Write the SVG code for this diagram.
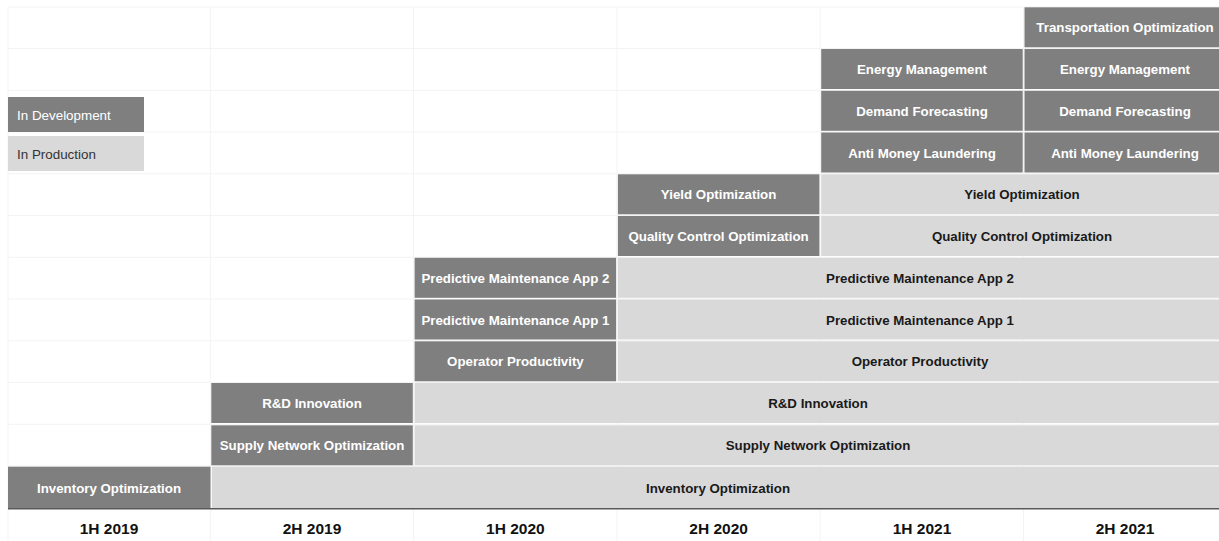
<svg xmlns="http://www.w3.org/2000/svg" width="1219" height="541" viewBox="0 0 1219 541">
<style>
.dk{fill:#7f7f7f}
.lt{fill:#d9d9d9}
.tw{font-family:"Liberation Sans",Arial,sans-serif;font-weight:bold;font-size:13.3px;fill:#ffffff;text-anchor:middle}
.tb{font-family:"Liberation Sans",Arial,sans-serif;font-weight:bold;font-size:13.3px;fill:#1a1a1a;text-anchor:middle}
.ax{font-family:"Liberation Sans",Arial,sans-serif;font-weight:bold;font-size:15.5px;fill:#111111;text-anchor:middle}
.lg{font-family:"Liberation Sans",Arial,sans-serif;font-size:13.4px}
.grid{stroke:#f3f3f3;stroke-width:1;fill:none}
</style>
<rect x="0" y="0" width="1219" height="541" fill="#ffffff"/>
<g id="grid">
<path class="grid" d="M8 7H1219M8 48.5H1219M8 90.3H1219M8 132H1219M8 173.8H1219M8 215.5H1219M8 257.3H1219M8 299H1219M8 340.8H1219M8 382.5H1219M8 424.3H1219M8 466H1219"/>
<path class="grid" d="M8 7V541M210.3 7V541M413.6 7V541M616.9 7V541M820.2 7V541M1023.5 7V541"/>
</g>
<g id="legend">
<rect class="dk" x="8" y="97" width="136" height="35"/>
<text class="lg" x="17" y="119.5" fill="#ffffff">In Development</text>
<rect class="lt" x="8" y="136" width="136" height="35"/>
<text class="lg" x="17" y="158.5" fill="#333333">In Production</text>
</g>
<g id="transportation">
<rect class="dk" x="1024.5" y="7.3" width="194.5" height="40"/>
<text class="tw" x="1125" y="32.3">Transportation Optimization</text>
</g>
<g id="energy">
<rect class="dk" x="821.2" y="49" width="201.5" height="40"/>
<text class="tw" x="922" y="74">Energy Management</text>
<rect class="dk" x="1024.5" y="49" width="194.5" height="40"/>
<text class="tw" x="1125" y="74">Energy Management</text>
</g>
<g id="demand">
<rect class="dk" x="821.2" y="90.8" width="201.5" height="40"/>
<text class="tw" x="922" y="115.8">Demand Forecasting</text>
<rect class="dk" x="1024.5" y="90.8" width="194.5" height="40"/>
<text class="tw" x="1125" y="115.8">Demand Forecasting</text>
</g>
<g id="aml">
<rect class="dk" x="821.2" y="132.5" width="201.5" height="40"/>
<text class="tw" x="922" y="157.5">Anti Money Laundering</text>
<rect class="dk" x="1024.5" y="132.5" width="194.5" height="40"/>
<text class="tw" x="1125" y="157.5">Anti Money Laundering</text>
</g>
<g id="yield">
<rect class="dk" x="617.9" y="174.3" width="201.5" height="40"/>
<text class="tw" x="718.6" y="199.3">Yield Optimization</text>
<rect class="lt" x="821.2" y="174.3" width="397.8" height="40"/>
<text class="tb" x="1022" y="199.3">Yield Optimization</text>
</g>
<g id="quality">
<rect class="dk" x="617.9" y="216" width="201.5" height="40"/>
<text class="tw" x="718.6" y="241">Quality Control Optimization</text>
<rect class="lt" x="821.2" y="216" width="397.8" height="40"/>
<text class="tb" x="1022" y="241">Quality Control Optimization</text>
</g>
<g id="pm2">
<rect class="dk" x="414.6" y="257.8" width="201.5" height="40"/>
<text class="tw" x="515.4" y="282.8">Predictive Maintenance App 2</text>
<rect class="lt" x="617.9" y="257.8" width="601.1" height="40"/>
<text class="tb" x="920" y="282.8">Predictive Maintenance App 2</text>
</g>
<g id="pm1">
<rect class="dk" x="414.6" y="299.5" width="201.5" height="40"/>
<text class="tw" x="515.4" y="324.5">Predictive Maintenance App 1</text>
<rect class="lt" x="617.9" y="299.5" width="601.1" height="40"/>
<text class="tb" x="920" y="324.5">Predictive Maintenance App 1</text>
</g>
<g id="operator">
<rect class="dk" x="414.6" y="341.3" width="201.5" height="40"/>
<text class="tw" x="515.4" y="366.3">Operator Productivity</text>
<rect class="lt" x="617.9" y="341.3" width="601.1" height="40"/>
<text class="tb" x="920" y="366.3">Operator Productivity</text>
</g>
<g id="rnd">
<rect class="dk" x="211.3" y="383" width="201.5" height="40"/>
<text class="tw" x="312" y="408">R&amp;D Innovation</text>
<rect class="lt" x="414.6" y="383" width="804.4" height="40"/>
<text class="tb" x="818" y="408">R&amp;D Innovation</text>
</g>
<g id="supply">
<rect class="dk" x="211.3" y="425.3" width="201.5" height="40"/>
<text class="tw" x="312" y="450.3">Supply Network Optimization</text>
<rect class="lt" x="414.6" y="425.3" width="804.4" height="40"/>
<text class="tb" x="818" y="450.3">Supply Network Optimization</text>
</g>
<g id="inventory">
<rect class="dk" x="8" y="466.7" width="202.5" height="41.3"/>
<text class="tw" x="109" y="493.3">Inventory Optimization</text>
<rect class="lt" x="211.8" y="466.7" width="1007.2" height="41.3"/>
<text class="tb" x="718" y="493.3">Inventory Optimization</text>
</g>
<g id="axis">
<line x1="8" y1="508.7" x2="1219" y2="508.7" stroke="#5a5a5a" stroke-width="1.6"/>
<text class="ax" x="109" y="533.5">1H 2019</text>
<text class="ax" x="312" y="533.5">2H 2019</text>
<text class="ax" x="515.4" y="533.5">1H 2020</text>
<text class="ax" x="718.6" y="533.5">2H 2020</text>
<text class="ax" x="922" y="533.5">1H 2021</text>
<text class="ax" x="1125" y="533.5">2H 2021</text>
</g>
</svg>
